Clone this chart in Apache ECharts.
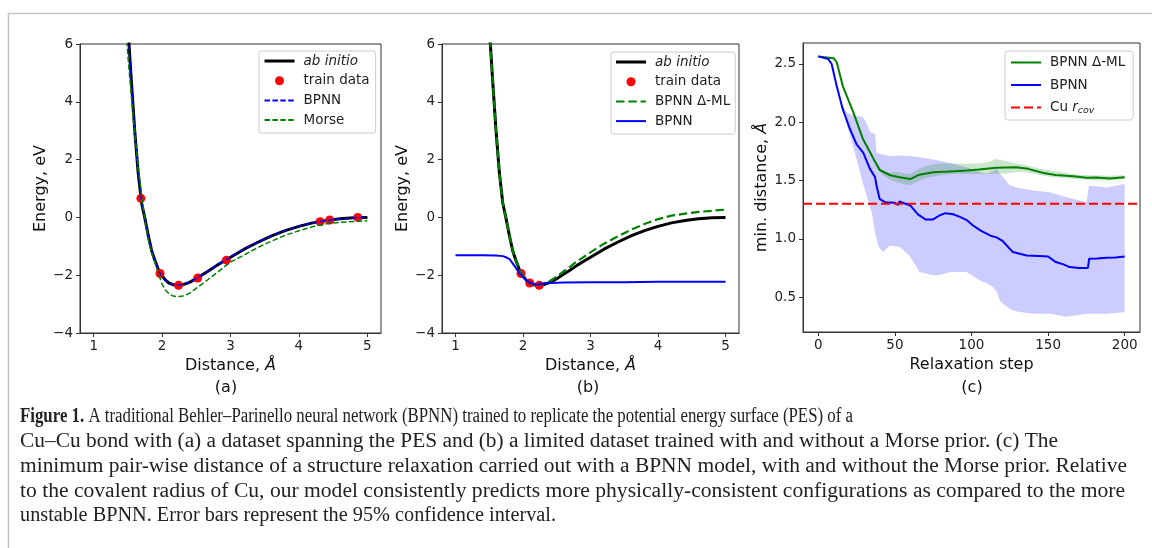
<!DOCTYPE html>
<html>
<head>
<meta charset="utf-8">
<script src="https://cdn.jsdelivr.net/npm/echarts@6/dist/echarts.min.js"></script>
<style>
  html, body { margin: 0; padding: 0; background: #fff; }
  #chart { width: 1152px; height: 548px; }
</style>
</head>
<body>
<div id="chart"></div>
<script>
// ---- panel (a) / (b): Cu-Cu potential energy curves ----
const abX = [1.5, 1.55, 1.6, 1.65, 1.7, 1.75, 1.8, 1.85, 1.9, 1.95, 2.0, 2.05, 2.1, 2.15, 2.2, 2.25, 2.3, 2.4, 2.5, 2.6, 2.7, 2.8, 2.9, 3.0, 3.2, 3.4, 3.6, 3.8, 4.0, 4.2, 4.4, 4.6, 4.8, 5.0]
const abInitioE = [6.6, 4.75, 3.0, 1.55, 0.5, -0.05, -0.65, -1.18, -1.52, -1.83, -2.03, -2.17, -2.27, -2.32, -2.35, -2.35, -2.33, -2.25, -2.12, -1.97, -1.82, -1.66, -1.52, -1.38, -1.1, -0.86, -0.64, -0.46, -0.31, -0.19, -0.11, -0.05, -0.01, 0.0]
const bpnnFullE = [6.5, 4.7, 3.0, 1.57, 0.52, -0.06, -0.66, -1.17, -1.53, -1.85, -2.05, -2.19, -2.28, -2.33, -2.35, -2.34, -2.32, -2.24, -2.11, -1.96, -1.81, -1.65, -1.51, -1.37, -1.09, -0.85, -0.63, -0.45, -0.3, -0.19, -0.11, -0.05, -0.02, 0.0]
const morseX = [1.45, 1.5, 1.55, 1.6, 1.65, 1.7, 1.75, 1.8, 1.85, 1.9, 1.95, 2.0, 2.05, 2.1, 2.15, 2.2, 2.25, 2.3, 2.4, 2.5, 2.6, 2.7, 2.8, 2.9, 3.0, 3.2, 3.4, 3.6, 3.8, 4.0, 4.2, 4.4, 4.6, 4.8, 5.0]
const morseE = [7.2, 5.6, 4.2, 2.9, 1.75, 0.75, -0.1, -0.8, -1.25, -1.6, -1.97, -2.3, -2.52, -2.64, -2.71, -2.74, -2.74, -2.72, -2.63, -2.45, -2.28, -2.1, -1.92, -1.73, -1.55, -1.3, -1.04, -0.82, -0.62, -0.46, -0.32, -0.22, -0.17, -0.14, -0.12]
const trainX = [1.69, 1.97, 2.24, 2.52, 2.94, 4.31, 4.45, 4.86]
const trainE = [0.66, -1.94, -2.35, -2.1, -1.48, -0.15, -0.09, 0.0]

const deltaMlE = [6.6, 4.75, 3.0, 1.55, 0.5, -0.05, -0.65, -1.18, -1.52, -1.83, -2.03, -2.17, -2.27, -2.32, -2.34, -2.33, -2.29, -2.2, -2.05, -1.87, -1.7, -1.52, -1.37, -1.21, -0.91, -0.66, -0.43, -0.23, -0.06, 0.06, 0.13, 0.19, 0.23, 0.27]
const bpnnLimX = [1.0, 1.2, 1.4, 1.6, 1.7, 1.75, 1.8, 1.85, 1.9, 1.95, 2.0, 2.05, 2.1, 2.15, 2.2, 2.25, 2.3, 2.4, 2.6, 3.0, 3.5, 4.0, 4.5, 5.0]
const bpnnLimE = [-1.31, -1.31, -1.31, -1.32, -1.34, -1.38, -1.44, -1.6, -1.77, -1.93, -2.07, -2.18, -2.26, -2.3, -2.32, -2.31, -2.29, -2.27, -2.25, -2.24, -2.24, -2.23, -2.23, -2.23]
const trainLimX = [1.97, 2.1, 2.24]
const trainLimE = [-1.94, -2.27, -2.35]

// ---- panel (c): relaxation ----
const dmlStep = [0, 10, 12, 16, 23, 29, 36, 40, 47, 53, 60, 66, 75, 86, 97, 105, 116, 129, 137, 147, 155, 162, 168, 175, 182, 190, 200]
const dmlDist = [2.565, 2.55, 2.515, 2.31, 2.08, 1.86, 1.686, 1.59, 1.545, 1.528, 1.512, 1.55, 1.57, 1.578, 1.586, 1.595, 1.61, 1.614, 1.6, 1.565, 1.548, 1.54, 1.535, 1.523, 1.525, 1.518, 1.528]
const dmlBandStep = [38, 42, 46, 50, 55, 60, 66, 72, 78, 86, 95, 103, 110, 116, 122, 129, 136, 145, 152, 162, 170, 180, 190, 200]
const dmlBandHi = [1.66, 1.59, 1.565, 1.575, 1.565, 1.555, 1.6, 1.63, 1.645, 1.645, 1.645, 1.645, 1.655, 1.685, 1.67, 1.645, 1.63, 1.6, 1.585, 1.565, 1.55, 1.545, 1.54, 1.545]
const dmlBandLo = [1.62, 1.55, 1.51, 1.49, 1.47, 1.46, 1.5, 1.525, 1.54, 1.555, 1.555, 1.555, 1.555, 1.557, 1.56, 1.57, 1.57, 1.545, 1.53, 1.52, 1.51, 1.5, 1.5, 1.51]

const bpnnStep = [0, 6.5, 8.7, 12, 16, 20.7, 25, 29.3, 33.7, 37, 38, 40, 43.5, 50, 52, 53, 56, 60, 65, 70, 75, 79, 83, 88, 92, 97, 101, 106, 112, 114, 116, 117, 120, 127, 136, 147, 150, 155, 160, 164, 170, 176, 176.8, 182, 188, 194, 200]
const bpnnDist = [2.565, 2.543, 2.5, 2.31, 2.11, 1.94, 1.81, 1.74, 1.6, 1.53, 1.457, 1.343, 1.314, 1.309, 1.29, 1.32, 1.305, 1.286, 1.21, 1.165, 1.166, 1.2, 1.22, 1.21, 1.19, 1.16, 1.114, 1.07, 1.029, 1.02, 1.014, 1.02, 0.985, 0.886, 0.857, 0.85, 0.848, 0.8, 0.78, 0.757, 0.75, 0.75, 0.829, 0.83, 0.837, 0.84, 0.848]
const bpnnBandStep = [0, 8.7, 12, 15.2, 18.5, 20.7, 25, 27.2, 29.3, 31.5, 34, 35, 37, 38, 39, 40, 42.4, 46.8, 53.3, 59.8, 66, 75, 79, 86, 96.8, 105.5, 109.8, 114, 116.3, 118.5, 120.7, 125, 127, 129.4, 140, 151, 162, 175, 176.7, 188, 200]
const bpnnBandHi = [2.565, 2.5, 2.31, 2.157, 2.085, 2.07, 2.056, 2.05, 2.04, 1.99, 1.91, 1.91, 1.9, 1.74, 1.735, 1.73, 1.72, 1.71, 1.714, 1.71, 1.7, 1.68, 1.67, 1.65, 1.614, 1.57, 1.557, 1.58, 1.6, 1.56, 1.528, 1.457, 1.45, 1.44, 1.414, 1.4, 1.357, 1.314, 1.457, 1.44, 1.47]
const bpnnBandLo = [2.565, 2.5, 2.31, 2.157, 1.98, 1.886, 1.68, 1.57, 1.47, 1.37, 1.26, 1.22, 1.057, 1.0, 0.943, 0.92, 0.886, 0.943, 0.93, 0.85, 0.714, 0.686, 0.69, 0.714, 0.714, 0.643, 0.62, 0.585, 0.55, 0.47, 0.44, 0.4, 0.386, 0.375, 0.357, 0.357, 0.33, 0.357, 0.357, 0.357, 0.37]
const CU_RCOV = 1.3
const stepRange = [-10, 210]

const captionLead = 'Figure 1.'
const captionLines = [
  'A traditional Behler–Parinello neural network (BPNN) trained to replicate the potential energy surface (PES) of a',
  'Cu–Cu bond with (a) a dataset spanning the PES and (b) a limited dataset trained with and without a Morse prior. (c) The',
  'minimum pair-wise distance of a structure relaxation carried out with a BPNN model, with and without the Morse prior. Relative',
  'to the covalent radius of Cu, our model consistently predicts more physically-consistent configurations as compared to the more',
  'unstable BPNN. Error bars represent the 95% confidence interval.'
]
// right edge of each caption line in the picture (ragged right)
const captionEnds = [853, 1058, 1127, 1125, 556]

const FONT = 'DejaVu Sans'
const SERIF = 'Liberation Serif'
const CAP_SIZE = 20
const zip = (xs, ys) => xs.map((x, i) => [x, ys[i]])
const minus = v => (v < 0 ? '\u2212' + Math.abs(v) : String(v))

const measureCtx = document.createElement('canvas').getContext('2d')
function captionWidth(i) {
  measureCtx.font = CAP_SIZE + 'px "' + SERIF + '"'
  let w = measureCtx.measureText(i === 0 ? ' ' + captionLines[i] : captionLines[i]).width
  if (i === 0) {
    measureCtx.font = 'bold ' + CAP_SIZE + 'px "' + SERIF + '"'
    w += measureCtx.measureText(captionLead).width
  }
  return w
}

function xAxisFor(grid, min, max, nameText) {
  return {
    type: 'value', gridIndex: grid, min: min, max: max,
    name: nameText, nameLocation: 'middle', nameGap: 21,
    nameTextStyle: {
      fontFamily: FONT, fontSize: 16, color: '#111',
      rich: {
        n: { fontFamily: FONT, fontSize: 16, color: '#111' },
        i: { fontFamily: FONT, fontSize: 16, color: '#111', fontStyle: 'italic' }
      }
    },
    axisLine: { show: true, onZero: false, lineStyle: { color: '#333', width: 1 } },
    axisTick: { show: true, length: 4, lineStyle: { color: '#333' } },
    axisLabel: { color: '#222', fontFamily: FONT, fontSize: 13.5, margin: 6, showMinLabel: false, showMaxLabel: false },
    splitLine: { show: false }
  }
}

function yAxisFor(grid, opts) {
  return Object.assign({
    type: 'value', gridIndex: grid,
    nameLocation: 'middle', nameRotate: 90,
    nameTextStyle: {
      fontFamily: FONT, fontSize: 16, color: '#111',
      rich: {
        n: { fontFamily: FONT, fontSize: 16, color: '#111' },
        i: { fontFamily: FONT, fontSize: 16, color: '#111', fontStyle: 'italic' }
      }
    },
    axisLine: { show: true, onZero: false, lineStyle: { color: '#333', width: 1 } },
    axisTick: { show: true, length: 4, lineStyle: { color: '#333' } },
    splitLine: { show: false }
  }, opts)
}

// the line icons hide their marker, the scatter entry keeps its dot
function legendFor(names, left, top, gap, padding) {
  return {
    data: names.map(n => {
      if (n === 'train data') return { name: n, itemStyle: { opacity: 1 } }
      if (n === 'ab initio') return { name: n, lineStyle: { width: 3 } }
      return n
    }),
    orient: 'vertical', left: left, top: top,
    itemWidth: 30, itemHeight: 9, itemGap: gap, padding: padding,
    itemStyle: { opacity: 0 },
    backgroundColor: 'rgba(255,255,255,0.8)', borderColor: '#ccc', borderWidth: 1, borderRadius: 3,
    selectedMode: false,
    formatter: function (name) {
      const base = name.split('#')[0]
      if (base === 'ab initio') return '{i|ab initio}'
      if (base === 'Cu rcov') return '{n|Cu }{i|r}{s|cov}'
      return '{n|' + base + '}'
    },
    textStyle: {
      fontFamily: FONT, fontSize: 13.5, color: '#222', lineHeight: 16, padding: [0, 0, 0, 4],
      rich: {
        n: { fontFamily: FONT, fontSize: 13.5, color: '#222', lineHeight: 16 },
        i: { fontFamily: FONT, fontSize: 13.5, color: '#222', fontStyle: 'italic', lineHeight: 16 },
        s: { fontFamily: FONT, fontSize: 9.5, color: '#222', fontStyle: 'italic', verticalAlign: 'bottom', lineHeight: 10 }
      }
    }
  }
}

function bandSeries(steps, lo, hi, color, z) {
  return {
    type: 'custom', xAxisIndex: 2, yAxisIndex: 2, z: z, silent: true, clip: true,
    data: [[steps[0], lo[0]]],
    renderItem: function (params, api) {
      const pts = []
      for (let i = 0; i < steps.length; i++) pts.push(api.coord([steps[i], hi[i]]))
      for (let i = steps.length - 1; i >= 0; i--) pts.push(api.coord([steps[i], lo[i]]))
      return { type: 'polygon', shape: { points: pts }, style: { fill: color } }
    }
  }
}

const chart = echarts.init(document.getElementById('chart'))

const option = {
  animation: false,
  textStyle: { fontFamily: FONT },
  grid: [
    { left: 80, top: 44, width: 301, height: 289, show: true, borderColor: '#333', borderWidth: 1 },
    { left: 442, top: 44, width: 297, height: 289, show: true, borderColor: '#333', borderWidth: 1 },
    { left: 803, top: 43, width: 337, height: 289, show: true, borderColor: '#333', borderWidth: 1 }
  ],
  xAxis: [
    xAxisFor(0, 0.8, 5.2, '{n|Distance, }{i|Å}'),
    xAxisFor(1, 0.8, 5.2, '{n|Distance, }{i|Å}'),
    xAxisFor(2, stepRange[0], stepRange[1], '{n|Relaxation step}')
  ],
  yAxis: [
    yAxisFor(0, { min: -4, max: 6, interval: 2, name: '{n|Energy, eV}', nameGap: 31,
      axisLabel: { color: '#222', fontFamily: FONT, fontSize: 13.5, margin: 7, formatter: minus } }),
    yAxisFor(1, { min: -4, max: 6, interval: 2, name: '{n|Energy, eV}', nameGap: 31,
      axisLabel: { color: '#222', fontFamily: FONT, fontSize: 13.5, margin: 7, formatter: minus } }),
    yAxisFor(2, { min: 0.2, max: 2.68, name: '{n|min. distance, }{i|Å}', nameGap: 33,
      axisLabel: { color: '#222', fontFamily: FONT, fontSize: 13.5, margin: 7, showMinLabel: false, showMaxLabel: false,
        formatter: v => v.toFixed(1) } })
  ],
  legend: [
    legendFor(['ab initio', 'train data', 'BPNN#a', 'Morse'], 259, 51, 3.7, [2, 6, 5, 4]),
    legendFor(['ab initio', 'train data', 'BPNN Δ-ML#b', 'BPNN#b'], 611, 52, 3.7, [2, 5, 5, 3.5]),
    legendFor(['BPNN Δ-ML#c', 'BPNN#c', 'Cu rcov'], 1005, 51, 6.5, [3.5, 8, 4.5, 5])
  ],
  series: [
    // (a)
    { name: 'ab initio', type: 'line', xAxisIndex: 0, yAxisIndex: 0, data: zip(abX, abInitioE), symbol: 'none', z: 2,
      lineStyle: { color: '#000', width: 3 }, itemStyle: { color: '#000' } },
    { name: 'train data', type: 'scatter', xAxisIndex: 0, yAxisIndex: 0, data: zip(trainX, trainE), symbolSize: 9, z: 3,
      itemStyle: { color: '#ff0000', opacity: 1 } },
    { name: 'BPNN#a', type: 'line', xAxisIndex: 0, yAxisIndex: 0, data: zip(abX, bpnnFullE), symbol: 'none', z: 4,
      lineStyle: { color: '#0000ff', width: 1.5, type: [5.5, 2.4] }, itemStyle: { color: '#0000ff' } },
    { name: 'Morse', type: 'line', xAxisIndex: 0, yAxisIndex: 0, data: zip(morseX, morseE), symbol: 'none', z: 5,
      lineStyle: { color: '#008000', width: 1.5, type: [5.5, 2.4] }, itemStyle: { color: '#008000' } },
    // (b)
    { name: 'ab initio', type: 'line', xAxisIndex: 1, yAxisIndex: 1, data: zip(abX, abInitioE), symbol: 'none', z: 2,
      lineStyle: { color: '#000', width: 3 }, itemStyle: { color: '#000' } },
    { name: 'train data', type: 'scatter', xAxisIndex: 1, yAxisIndex: 1, data: zip(trainLimX, trainLimE), symbolSize: 9, z: 3,
      itemStyle: { color: '#ff0000', opacity: 1 } },
    { name: 'BPNN Δ-ML#b', type: 'line', xAxisIndex: 1, yAxisIndex: 1, data: zip(abX, deltaMlE), symbol: 'none', z: 4,
      lineStyle: { color: '#008000', width: 2.2, type: [8.5, 3.8] }, itemStyle: { color: '#008000' } },
    { name: 'BPNN#b', type: 'line', xAxisIndex: 1, yAxisIndex: 1, data: zip(bpnnLimX, bpnnLimE), symbol: 'none', z: 5,
      lineStyle: { color: '#0000ff', width: 2 }, itemStyle: { color: '#0000ff' } },
    // (c)
    bandSeries(bpnnBandStep, bpnnBandLo, bpnnBandHi, 'rgba(0,0,255,0.2)', 1),
    bandSeries(dmlBandStep, dmlBandLo, dmlBandHi, 'rgba(0,128,0,0.2)', 2),
    { name: 'BPNN Δ-ML#c', type: 'line', xAxisIndex: 2, yAxisIndex: 2, data: zip(dmlStep, dmlDist), symbol: 'none', z: 3,
      lineStyle: { color: '#008000', width: 2 }, itemStyle: { color: '#008000' } },
    { name: 'BPNN#c', type: 'line', xAxisIndex: 2, yAxisIndex: 2, data: zip(bpnnStep, bpnnDist), symbol: 'none', z: 4,
      lineStyle: { color: '#0000ff', width: 2 }, itemStyle: { color: '#0000ff' } },
    { name: 'Cu rcov', type: 'line', xAxisIndex: 2, yAxisIndex: 2, data: stepRange.map(s => [s, CU_RCOV]), symbol: 'none', z: 5,
      lineStyle: { color: '#ff0000', width: 2, type: [9, 4] }, itemStyle: { color: '#ff0000' } }
  ],
  graphic: [
    { type: 'rect', z: -1, shape: { x: 8.5, y: 13.5, width: 1160, height: 560 },
      style: { fill: 'none', stroke: '#c4c4c4', lineWidth: 1.5 } },
    { type: 'text', x: 226, y: 388, style: { text: '(a)', fontFamily: FONT, fontSize: 16, fill: '#111', align: 'center', verticalAlign: 'middle' } },
    { type: 'text', x: 588, y: 388, style: { text: '(b)', fontFamily: FONT, fontSize: 16, fill: '#111', align: 'center', verticalAlign: 'middle' } },
    { type: 'text', x: 972, y: 388, style: { text: '(c)', fontFamily: FONT, fontSize: 16, fill: '#111', align: 'center', verticalAlign: 'middle' } }
  ].concat(captionLines.map((line, i) => ({
    type: 'text', x: 20, y: 417 + i * 24.75,
    scaleX: (captionEnds[i] - 20) / captionWidth(i),
    style: {
      text: i === 0 ? '{b|' + captionLead + '} ' + line : line,
      fontFamily: SERIF, fontSize: CAP_SIZE, fill: '#222', verticalAlign: 'middle',
      rich: { b: { fontFamily: SERIF, fontSize: CAP_SIZE, fontWeight: 'bold', fill: '#222' } }
    }
  })))
}

chart.setOption(option)
</script>
</body>
</html>
